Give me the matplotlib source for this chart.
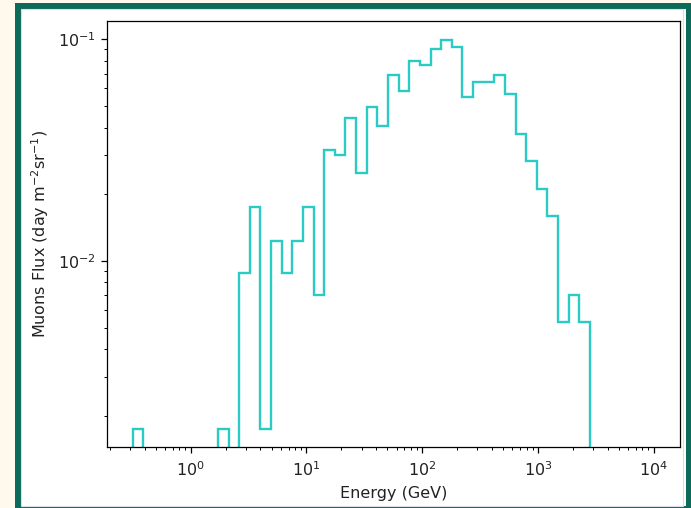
import numpy as np
import matplotlib
matplotlib.use("Agg")
import matplotlib.pyplot as plt
from matplotlib.patches import Rectangle

# Log-spaced energy bins (GeV): 43 bins between 10^-0.5 and 10^3.45
log_e_min, log_e_max, n_bins = -0.5, 3.45, 43
energy_edges = np.logspace(log_e_min, log_e_max, n_bins + 1)

# Muon flux per bin (day^-1 m^-2 sr^-1)
flux = [
    0.00175, 0, 0, 0, 0, 0, 0, 0, 0.00175, 0,
    0.0088, 0.0176, 0.00175, 0.0123, 0.0088, 0.0123, 0.0176, 0.0070, 0.0317, 0.0301,
    0.0440, 0.0249, 0.0497, 0.0406, 0.0690, 0.0586, 0.0798, 0.0766, 0.0904, 0.0993,
    0.0926, 0.0547, 0.0640, 0.0640, 0.0690, 0.0567, 0.0373, 0.0283, 0.0211, 0.0159,
    0.0053, 0.0070, 0.0053,
]

plt.rcParams['font.family'] = ['DejaVu Sans']
plt.rcParams['font.size'] = 11.5
plt.rcParams['text.color'] = '#222222'
plt.rcParams['axes.labelcolor'] = '#222222'
plt.rcParams['xtick.labelcolor'] = '#222222'
plt.rcParams['ytick.labelcolor'] = '#222222'
plt.rcParams['axes.linewidth'] = 0.9
plt.rcParams['xtick.major.size'] = 4
plt.rcParams['ytick.major.size'] = 4
plt.rcParams['xtick.minor.size'] = 2.3
plt.rcParams['ytick.minor.size'] = 2.3
plt.rcParams['xtick.major.width'] = 0.9
plt.rcParams['ytick.major.width'] = 0.9
plt.rcParams['xtick.minor.width'] = 0.7
plt.rcParams['ytick.minor.width'] = 0.7
plt.rcParams['xtick.major.pad'] = 5.5
plt.rcParams['ytick.major.pad'] = 4

W, H = 691, 508
fig = plt.figure(figsize=(W / 100, H / 100), dpi=100)
fig.patch.set_facecolor('#fef9ec')

# dark frame around the white plotting card (in pixels, y from the top)
def px_rect(x0, y0, x1, y1, **kw):
    return Rectangle((x0 / W, 1 - y1 / H), (x1 - x0) / W, (y1 - y0) / H,
                     transform=fig.transFigure, zorder=-5, **kw)

fig.patches.append(px_rect(15.3, 2.7, 695, 515, facecolor='#0b6a5a', edgecolor='none'))
fig.patches.append(px_rect(21.3, 8.7, 685.5, 506, facecolor='white', edgecolor='none'))
fig.patches.append(px_rect(21.3, 9.0, 683.0, 506, facecolor='none', edgecolor='#dedede', linewidth=0.8))

ax = fig.add_axes([107 / W, 1 - 446.7 / H, (680.3 - 107) / W, (446.7 - 20.7) / H])
ax.set_facecolor('white')
ax.stairs(flux, energy_edges, color='#2bcbc5', linewidth=1.7)

ax.set_xscale('log')
ax.set_yscale('log')
ax.set_xlim(10 ** -0.723, 10 ** 4.23)
ax.set_ylim(0.001453, 0.1213)

ax.set_xlabel('Energy (GeV)', labelpad=5)
ax.set_ylabel(r'Muons Flux (day m$^{-2}$sr$^{-1}$)', labelpad=5)

fig.savefig('out.png', dpi=100, facecolor=fig.get_facecolor())
